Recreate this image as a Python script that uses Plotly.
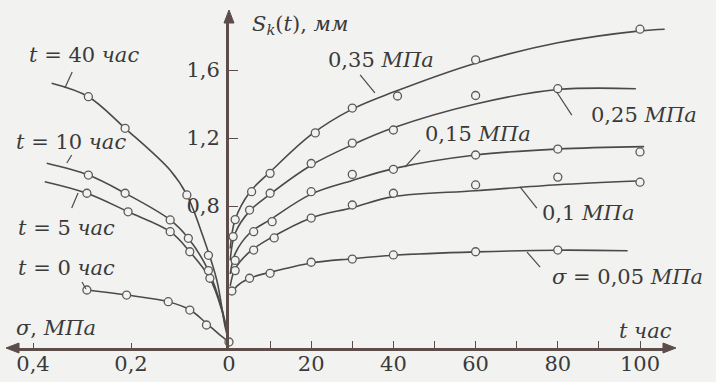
import plotly.graph_objects as go

# ---------------- data ----------------
# Right panel: S_k(t), mm vs t, h for different stresses sigma
t_line_005 = [0.5, 2, 5, 10, 20, 30, 40, 60, 80, 97]
s_line_005 = [0.28, 0.33, 0.375, 0.41, 0.465, 0.49, 0.51, 0.53, 0.54, 0.537]
t_mark_005 = [0.7, 5, 10, 20, 30, 40, 60, 80]
s_mark_005 = [0.30, 0.375, 0.404, 0.469, 0.488, 0.512, 0.531, 0.541]

t_line_01 = [0.3, 1.5, 5, 10, 20, 30, 40, 60, 80, 99]
s_line_01 = [0.33, 0.43, 0.53, 0.61, 0.73, 0.79, 0.855, 0.89, 0.925, 0.947]
t_mark_01 = [1.5, 6, 11, 20, 30, 40, 60, 80, 100]
s_mark_01 = [0.42, 0.541, 0.612, 0.729, 0.806, 0.875, 0.924, 0.97, 0.94]

t_line_015 = [0.3, 1.5, 5, 10, 20, 30, 40, 60, 80, 101]
s_line_015 = [0.40, 0.52, 0.64, 0.72, 0.87, 0.95, 1.02, 1.10, 1.135, 1.149]
t_mark_015 = [1.5, 6, 10.5, 20, 30, 40, 60, 80, 100]
s_mark_015 = [0.48, 0.649, 0.708, 0.884, 0.986, 1.016, 1.10, 1.135, 1.118]

t_line_025 = [0.3, 1.5, 5, 10, 20, 30, 40, 60, 80, 99]
s_line_025 = [0.48, 0.64, 0.77, 0.87, 1.04, 1.16, 1.26, 1.40, 1.485, 1.49]
t_mark_025 = [1.0, 5, 10, 20, 30, 40, 60, 80]
s_mark_025 = [0.62, 0.776, 0.875, 1.05, 1.17, 1.247, 1.45, 1.49]

t_line_035 = [0.3, 1.5, 5, 10, 20, 30, 40, 60, 80, 100, 106]
s_line_035 = [0.55, 0.72, 0.88, 1.0, 1.22, 1.37, 1.47, 1.64, 1.76, 1.83, 1.84]
t_mark_035 = [1.5, 5.5, 10, 21, 30, 41, 60, 100]
s_mark_035 = [0.72, 0.884, 0.992, 1.23, 1.376, 1.447, 1.66, 1.84]

# Left panel: S_k vs sigma, MPa for fixed times
sig_line_t0 = [0.29, 0.209, 0.124, 0.08, 0.046, 0.02, 0]
s_line_t0 = [0.306, 0.276, 0.237, 0.19, 0.11, 0.045, 0]
sig_mark_t0 = [0.29, 0.209, 0.124, 0.08, 0.046, 0]
s_mark_t0 = [0.306, 0.276, 0.237, 0.188, 0.10, 0]

sig_line_t5 = [0.376, 0.29, 0.206, 0.12, 0.08, 0.039, 0.015, 0]
s_line_t5 = [0.943, 0.875, 0.766, 0.649, 0.531, 0.375, 0.19, 0]
sig_mark_t5 = [0.29, 0.206, 0.12, 0.08, 0.039]
s_mark_t5 = [0.875, 0.766, 0.649, 0.531, 0.375]

sig_line_t10 = [0.372, 0.287, 0.212, 0.12, 0.083, 0.042, 0.015, 0]
s_line_t10 = [1.051, 0.982, 0.875, 0.718, 0.61, 0.42, 0.2, 0]
sig_mark_t10 = [0.287, 0.212, 0.12, 0.083, 0.042]
s_mark_t10 = [0.982, 0.875, 0.718, 0.61, 0.42]

sig_line_t40 = [0.362, 0.287, 0.212, 0.12, 0.086, 0.053, 0.025, 0.008, 0]
s_line_t40 = [1.522, 1.443, 1.257, 1.01, 0.865, 0.62, 0.365, 0.09, 0]
sig_mark_t40 = [0.287, 0.212, 0.086, 0.042]
s_mark_t40 = [1.443, 1.257, 0.865, 0.51]

t_ticks = [0, 20, 40, 60, 80, 100]
t_ticktext = ["0", "20", "40", "60", "80", "100"]
sig_ticks = [0.2, 0.4]
sig_ticktext = ["0,2", "0,4"]
s_ticks = [0.8, 1.2, 1.6]
s_ticktext = ["0,8", "1,2", "1,6"]

# ---------------- styling ----------------
BG = "#f2f2f0"
LINE = "#4a4a4a"
AXIS = "#5c4d4b"
TXT = "#3a3a3a"
FONT = "DejaVu Serif"
FS = 21

W, H = 716, 382
PL, PR, PT, PB = 14, 668, 20, 348   # plot area in pixels
PX_PER_MPA = 490.0
PX_PER_H = 4.11
PX_PER_MM = 170.0
X0 = 229   # pixel of the vertical axis
Y0 = 342   # pixel of S = 0

dom_split = (X0 - PL) / (PR - PL)
sig_max = (X0 - PL) / PX_PER_MPA
t_max = (PR - X0) / PX_PER_H
s_min = (Y0 - PB) / PX_PER_MM
s_max = (Y0 - PT) / PX_PER_MM


def P(x, y):
    return (x - PL) / (PR - PL), (PB - y) / (PB - PT)


fig = go.Figure()

right = [
    (t_line_005, s_line_005, t_mark_005, s_mark_005),
    (t_line_01, s_line_01, t_mark_01, s_mark_01),
    (t_line_015, s_line_015, t_mark_015, s_mark_015),
    (t_line_025, s_line_025, t_mark_025, s_mark_025),
    (t_line_035, s_line_035, t_mark_035, s_mark_035),
]
left = [
    (sig_line_t0, s_line_t0, sig_mark_t0, s_mark_t0),
    (sig_line_t5, s_line_t5, sig_mark_t5, s_mark_t5),
    (sig_line_t10, s_line_t10, sig_mark_t10, s_mark_t10),
    (sig_line_t40, s_line_t40, sig_mark_t40, s_mark_t40),
]

marker_style = dict(symbol="circle", size=8, color=BG, line=dict(color="#5a5a5a", width=1.3))

for xl, yl, xm, ym in right:
    fig.add_trace(go.Scatter(x=xl, y=yl, xaxis="x2", yaxis="y", mode="lines",
                             line=dict(color=LINE, width=1.6, shape="spline", smoothing=1.0),
                             showlegend=False, hoverinfo="skip"))
for xl, yl, xm, ym in left:
    fig.add_trace(go.Scatter(x=xl, y=yl, xaxis="x", yaxis="y", mode="lines",
                             line=dict(color=LINE, width=1.6, shape="spline", smoothing=1.0),
                             showlegend=False, hoverinfo="skip"))
for xl, yl, xm, ym in right:
    fig.add_trace(go.Scatter(x=xm, y=ym, xaxis="x2", yaxis="y", mode="markers",
                             marker=marker_style, showlegend=False, cliponaxis=False))
for xl, yl, xm, ym in left:
    fig.add_trace(go.Scatter(x=xm, y=ym, xaxis="x", yaxis="y", mode="markers",
                             marker=marker_style, showlegend=False, cliponaxis=False))

tickfont = dict(family=FONT, size=FS, color=TXT)

fig.update_layout(
    width=W, height=H,
    margin=dict(l=PL, r=W - PR, t=PT, b=H - PB, pad=0),
    paper_bgcolor=BG, plot_bgcolor=BG,
    showlegend=False,
    font=dict(family=FONT, size=FS, color=TXT),
    xaxis=dict(domain=[0, dom_split], range=[sig_max, 0], anchor="y",
               showline=True, linecolor=AXIS, linewidth=3, showgrid=False, zeroline=False,
               ticks="inside", ticklen=5, tickwidth=1.2, tickcolor=AXIS,
               tickvals=sig_ticks, ticktext=sig_ticktext, tickfont=tickfont, automargin=False,
               ticklabelstandoff=-5),
    xaxis2=dict(domain=[dom_split, 1], range=[0, t_max], anchor="y",
                showline=True, linecolor=AXIS, linewidth=3, showgrid=False, zeroline=False,
                ticks="inside", ticklen=7, tickwidth=1.2, tickcolor=AXIS,
                tickvals=t_ticks, ticktext=t_ticktext, tickfont=tickfont, automargin=False,
                ticklabelstandoff=-5,
                minor=dict(ticks="inside", ticklen=7, tickwidth=1.2, tickcolor=AXIS, dtick=10, tick0=0)),
    yaxis=dict(range=[s_min, s_max], anchor="x2", side="left",
               showline=True, linecolor=AXIS, linewidth=3, showgrid=False, zeroline=False,
               ticks="inside", ticklen=9, tickwidth=1.2, tickcolor=AXIS,
               tickvals=s_ticks, ticktext=s_ticktext, tickfont=tickfont, automargin=False,
               ticklabelstandoff=2),
)

# axis arrowheads as filled triangles (pixel positions -> paper)
triangles = [
    [(X0, PT - 10), (X0 - 5, PT + 3), (X0 + 5, PT + 3)],          # top of S axis
    [(PR + 8, PB), (PR - 5, PB - 5), (PR - 5, PB + 5)],          # right end of t axis
    [(PL - 8, PB), (PL + 5, PB - 5), (PL + 5, PB + 5)],          # left end of sigma axis
]
for tri in triangles:
    pts = [P(x, y) for x, y in tri]
    path = "M {:.5f},{:.5f} L {:.5f},{:.5f} L {:.5f},{:.5f} Z".format(
        pts[0][0], pts[0][1], pts[1][0], pts[1][1], pts[2][0], pts[2][1])
    fig.add_shape(type="path", xref="paper", yref="paper", path=path,
                  fillcolor=AXIS, line=dict(color=AXIS, width=1))

# text labels
labels = [
    (250, 25, "<i>S</i><sub><i>k</i></sub>(<i>t</i>), <i>мм</i>", "left"),
    (381, 60, "0,35 <i>МПа</i>", "center"),
    (644, 115, "0,25 <i>МПа</i>", "center"),
    (478, 134, "0,15 <i>МПа</i>", "center"),
    (588, 213, "0,1 <i>МПа</i>", "center"),
    (627, 277, "<i>σ</i> = 0,05 <i>МПа</i>", "center"),
    (645, 331, "<i>t час</i>", "center"),
    (56, 328, "<i>σ</i>, <i>МПа</i>", "center"),
    (84, 55, "<i>t</i> = 40 <i>час</i>", "center"),
    (71, 142, "<i>t</i> = 10 <i>час</i>", "center"),
    (66, 228, "<i>t</i> = 5 <i>час</i>", "center"),
    (66, 268, "<i>t</i> = 0 <i>час</i>", "center"),
]
for x, y, txt, anc in labels:
    px, py = P(x, y)
    fig.add_annotation(x=px, y=py, xref="paper", yref="paper", text=txt, showarrow=False,
                       xanchor=anc, yanchor="middle", font=dict(family=FONT, size=FS, color=TXT))

# leader lines (decoration)
leaders_right = [
    (31.9, 1.571, 35.5, 1.465),
    (79.7, 1.472, 83.4, 1.335),
    (42.8, 1.029, 46.5, 1.129),
    (70.8, 0.912, 74.9, 0.788),
    (72.5, 0.529, 75.7, 0.441),
]
for x1, y1, x2, y2 in leaders_right:
    fig.add_shape(type="line", xref="x2", yref="y", x0=x1, y0=y1, x1=x2, y1=y2,
                  line=dict(color=LINE, width=1.2))
leaders_left = [
    (0.335, 1.494, 0.320, 1.588),
    (0.331, 1.053, 0.321, 1.10),
    (0.321, 0.788, 0.308, 0.876),
    (0.292, 0.312, 0.300, 0.353),
]
for x1, y1, x2, y2 in leaders_left:
    fig.add_shape(type="line", xref="x", yref="y", x0=x1, y0=y1, x1=x2, y1=y2,
                  line=dict(color=LINE, width=1.2))

fig.write_html("out.html")
